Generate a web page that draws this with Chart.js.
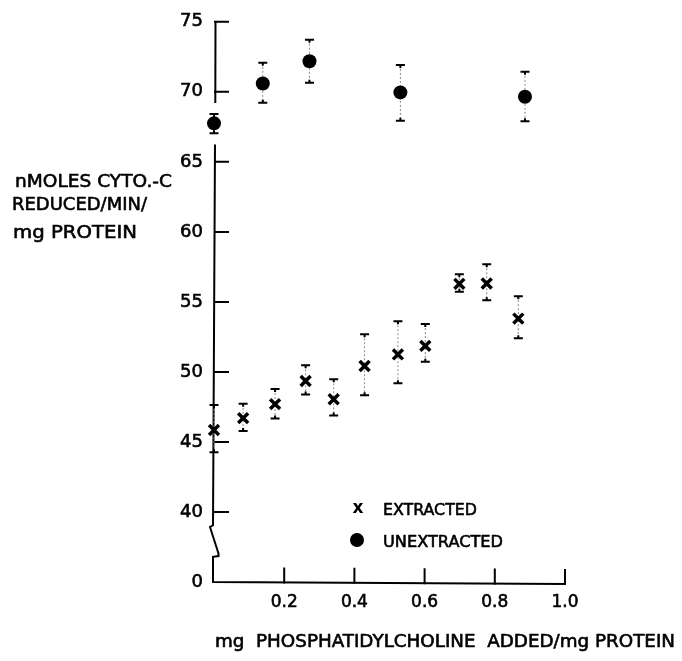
<!DOCTYPE html>
<html>
<head>
<meta charset="utf-8">
<script src="https://cdn.jsdelivr.net/npm/chart.js@4/dist/chart.umd.min.js"></script>
<style>
  html, body { margin: 0; padding: 0; background: #fff; }
  #wrap { width: 682px; height: 661px; }
</style>
</head>
<body>
<div id="wrap"><canvas id="c" width="682" height="661"></canvas></div>
<script>
// Cytochrome c reduction vs. phosphatidylcholine added
const doseExtracted   = [0, 0.083, 0.174, 0.261, 0.341, 0.429, 0.524, 0.602, 0.699, 0.777, 0.867];
const rateExtracted   = [45.85, 46.70, 47.70, 49.35, 48.05, 50.42, 51.25, 51.86, 56.29, 56.31, 53.81];
const highExtracted   = [47.63, 47.72, 48.78, 50.47, 49.47, 52.69, 53.62, 53.42, 56.97, 57.69, 55.41];
const lowExtracted    = [44.26, 45.78, 46.67, 48.38, 46.89, 48.34, 49.19, 50.72, 55.72, 55.11, 52.41];

const doseUnextracted = [0, 0.139, 0.272, 0.531, 0.886];
const rateUnextracted = [67.75, 70.59, 72.18, 69.96, 69.65];
const highUnextracted = [68.41, 72.07, 73.72, 71.92, 71.43];
const lowUnextracted  = [67.04, 69.22, 70.64, 67.94, 67.90];

const xTickValues = [0.2, 0.4, 0.6, 0.8, 1.0];
const yTickValues = [40, 45, 50, 55, 60, 65, 70, 75];
// the axis is broken below 40; its foot stands for zero
const Y_FOOT = 35;
const Y_FOOT_LABEL = '0';

const yTitleLines = ['nMOLES CYTO.-C', 'REDUCED/MIN/', 'mg PROTEIN'];
const xTitle = 'mg  PHOSPHATIDYLCHOLINE  ADDED/mg PROTEIN';
const legendLabels = ['EXTRACTED', 'UNEXTRACTED'];

const FONT = '"DejaVu Sans", "Liberation Sans", sans-serif';
const INK = '#000';

function toPoints(xs, ys) { return xs.map((v, i) => ({ x: v, y: ys[i] })); }

// draw text squeezed/stretched to a given width, from a left edge and baseline,
// with a thin outline so the lettering reads as heavy as pen lettering
function fitText(ctx, text, left, baseline, width, font) {
  ctx.save();
  ctx.font = font;
  const w = ctx.measureText(text).width;
  ctx.translate(left, baseline);
  ctx.scale(width / w, 1);
  ctx.textAlign = 'left';
  ctx.textBaseline = 'alphabetic';
  ctx.fillStyle = INK;
  ctx.strokeStyle = INK;
  ctx.lineWidth = 0.6;
  ctx.lineJoin = 'round';
  ctx.fillText(text, 0, 0);
  ctx.strokeText(text, 0, 0);
  ctx.restore();
}

const framePlugin = {
  id: 'frame',
  beforeDatasetsDraw(chart) {
    const { ctx, scales: { x, y } } = chart;
    const x0 = x.getPixelForValue(0);
    const yFoot = y.getPixelForValue(Y_FOOT);
    ctx.save();
    ctx.strokeStyle = INK;
    ctx.lineWidth = 2;
    ctx.lineCap = 'butt';
    ctx.lineJoin = 'miter';

    // vertical axis, left open around the first unextracted point
    const gapTop = highUnextracted[0] + 0.8;
    const gapBot = lowUnextracted[0] - 0.8;
    ctx.beginPath();
    ctx.moveTo(x0 + 1.5, y.getPixelForValue(75));
    ctx.lineTo(x0 + 1.3, y.getPixelForValue(gapTop));
    ctx.moveTo(x0 + 1, y.getPixelForValue(gapBot));
    ctx.lineTo(x0 - 1, y.getPixelForValue(39.05));
    // break symbol
    ctx.lineTo(x0 - 4, y.getPixelForValue(38.93));
    ctx.lineTo(x0 + 4.5, y.getPixelForValue(37.03));
    ctx.lineTo(x0 + 4.5, y.getPixelForValue(36.85));
    ctx.lineTo(x0 - 1, y.getPixelForValue(36.80));
    ctx.lineTo(x0 - 1, yFoot);
    // horizontal axis
    ctx.lineTo(x.getPixelForValue(1.0), yFoot + 2);
    ctx.stroke();

    // inward tick marks
    ctx.beginPath();
    yTickValues.forEach(v => {
      const py = y.getPixelForValue(v);
      ctx.moveTo(x0, py);
      ctx.lineTo(x0 + 15, py);
    });
    xTickValues.forEach(v => {
      const px = x.getPixelForValue(v);
      const base = yFoot + 2 * v;
      ctx.moveTo(px, base + 1);
      ctx.lineTo(px, base - 15);
    });
    ctx.stroke();

    // error bars
    const bars = (xs, hi, lo) => {
      xs.forEach((v, i) => {
        const px = x.getPixelForValue(v);
        const pt = y.getPixelForValue(hi[i]);
        const pb = y.getPixelForValue(lo[i]);
        ctx.save();
        ctx.strokeStyle = '#888';
        ctx.lineWidth = 1;
        ctx.setLineDash([2, 2]);
        ctx.beginPath();
        ctx.moveTo(px, pt);
        ctx.lineTo(px, pb);
        ctx.stroke();
        ctx.restore();
        ctx.beginPath();
        ctx.moveTo(px - 4.5, pt); ctx.lineTo(px + 4.5, pt);
        ctx.moveTo(px - 4.5, pb); ctx.lineTo(px + 4.5, pb);
        ctx.moveTo(px, pt); ctx.lineTo(px, pt + 3);
        ctx.moveTo(px, pb); ctx.lineTo(px, pb - 3);
        ctx.stroke();
      });
    };
    bars(doseExtracted, highExtracted, lowExtracted);
    bars(doseUnextracted, highUnextracted, lowUnextracted);
    ctx.restore();
  },
  afterDraw(chart) {
    const { ctx } = chart;
    ctx.save();
    ctx.fillStyle = INK;

    // y title, written horizontally to the left of the axis
    fitText(ctx, yTitleLines[0], 15, 187, 157, '18px ' + FONT);
    fitText(ctx, yTitleLines[1], 12, 210, 135, '18px ' + FONT);
    fitText(ctx, yTitleLines[2], 13, 238, 124, '18px ' + FONT);

    // x title
    fitText(ctx, xTitle, 215, 647, 460, '17px ' + FONT);

    // legend
    ctx.font = 'bold 17px ' + FONT;
    ctx.textAlign = 'center';
    ctx.textBaseline = 'alphabetic';
    ctx.fillText('x', 358, 513);
    ctx.beginPath();
    ctx.arc(357, 540, 7, 0, Math.PI * 2);
    ctx.fill();
    fitText(ctx, legendLabels[0], 383, 515, 94, '16px ' + FONT);
    fitText(ctx, legendLabels[1], 383, 546.5, 120, '16px ' + FONT);
    ctx.restore();
  }
};

new Chart(document.getElementById('c'), {
  type: 'scatter',
  data: {
    datasets: [
      {
        label: legendLabels[0],
        data: toPoints(doseExtracted, rateExtracted),
        pointStyle: 'crossRot',
        pointRadius: 7,
        pointBorderWidth: 3.5,
        borderColor: INK,
        backgroundColor: INK,
        clip: false
      },
      {
        label: legendLabels[1],
        data: toPoints(doseUnextracted, rateUnextracted),
        pointStyle: 'circle',
        pointRadius: 7,
        pointBorderWidth: 0,
        borderColor: INK,
        backgroundColor: INK,
        clip: false
      }
    ]
  },
  options: {
    responsive: false,
    animation: false,
    devicePixelRatio: 1,
    layout: { autoPadding: false, padding: { top: 19, right: 117, left: 0, bottom: 0 } },
    plugins: { legend: { display: false }, tooltip: { enabled: false } },
    scales: {
      x: {
        type: 'linear',
        min: 0,
        max: 1.0,
        afterBuildTicks: s => { s.ticks = xTickValues.map(v => ({ value: v })); },
        afterFit: s => { s.height = 79; },
        grid: { display: false, drawTicks: false },
        border: { display: false },
        ticks: {
          color: INK,
          textStrokeColor: INK,
          textStrokeWidth: 0.6,
          font: { family: FONT, size: 17 },
          padding: 10,
          maxRotation: 0,
          callback: v => v.toFixed(1)
        }
      },
      y: {
        type: 'linear',
        min: Y_FOOT,
        max: 75,
        afterBuildTicks: s => { s.ticks = [Y_FOOT, ...yTickValues].map(v => ({ value: v })); },
        afterFit: s => { s.width = 214; },
        grid: { display: false, drawTicks: false },
        border: { display: false },
        ticks: {
          color: INK,
          textStrokeColor: INK,
          textStrokeWidth: 0.6,
          font: { family: FONT, size: 18 },
          padding: 11,
          callback: v => (v === Y_FOOT ? Y_FOOT_LABEL : String(v))
        }
      }
    }
  },
  plugins: [framePlugin]
});
</script>
</body>
</html>
